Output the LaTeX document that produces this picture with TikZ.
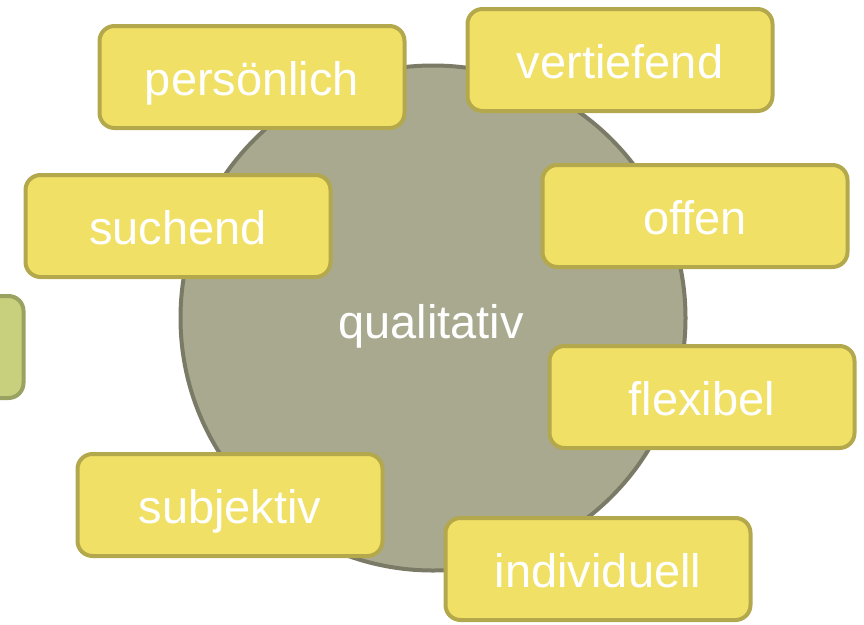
\documentclass[tikz,border=0pt]{standalone}
\usepackage{fontspec}
\setmainfont{Liberation Sans}
\definecolor{boxfill}{RGB}{240,224,102}
\definecolor{boxline}{RGB}{180,168,76}
\definecolor{kreisfill}{RGB}{169,169,143}
\definecolor{kreisline}{RGB}{122,122,102}
\definecolor{gruenfill}{RGB}{200,208,126}
\definecolor{gruenline}{RGB}{154,162,97}
\begin{document}
\begin{tikzpicture}[x=1pt,y=-1pt,
  schrift/.style={text=white,font=\fontsize{47}{50}\selectfont,text height=36pt,text depth=0pt},
  eigenschaft/.style={schrift,draw=boxline,fill=boxfill,line width=4pt,rounded corners=15pt,
    minimum width=305pt,minimum height=102pt},
  kreis/.style={circle,draw=kreisline,fill=kreisfill,line width=4pt,minimum size=505pt}]
\def	\w	{864};
\def	\h	{624};
\useasboundingbox (0,0) rectangle (\w,\h);
\node[eigenschaft,draw=gruenline,fill=gruenfill] (quanti) at (-129,347) {};
\node[kreis] (quali) at (433,318) {};
\node[schrift] (qualitext) at (431,320) {qualitativ};
\begin{scope}[every node/.style={eigenschaft}]
\node (persoenlich) at (252,77) {persönlich};
\node (vertiefend) at (620,60) {vertiefend};
\node (suchend) at (178,226) {suchend};
\node (offen) at (695,216) {offen};
\node (flexibel) at (702,397) {flexibel};
\node (subjektiv) at (230,505) {subjektiv};
\node (individuell) at (598,569) {individuell};
\end{scope}
\end{tikzpicture}
\end{document}
